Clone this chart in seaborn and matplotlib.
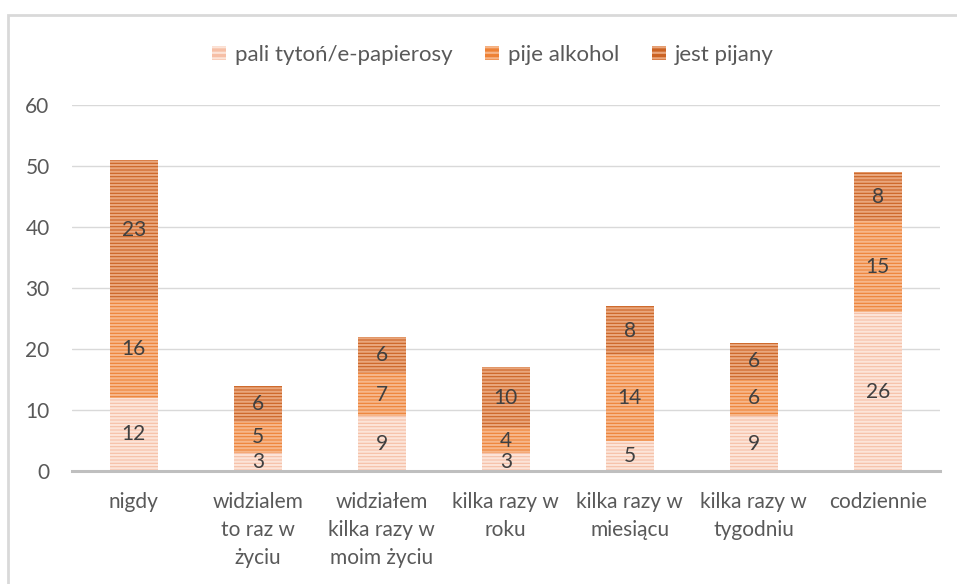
import matplotlib
matplotlib.use("Agg")
import matplotlib.pyplot as plt
import matplotlib.patches as mpatches
import numpy as np
import seaborn as sns

categories = ["nigdy", "widzialem\nto raz w\nżyciu", "widziałem\nkilka razy w\nmoim życiu",
              "kilka razy w\nroku", "kilka razy w\nmiesiącu", "kilka razy w\ntygodniu", "codziennie"]
series = ["pali tytoń/e-papierosy", "pije alkohol", "jest pijany"]
pali = [12, 3, 9, 3, 5, 9, 26]
pije = [16, 5, 7, 4, 14, 6, 15]
pijany = [23, 6, 6, 10, 8, 6, 8]

face_colors = ["#F6BFA6", "#EE8236", "#CB6324"]
stripe_colors = ["#FCE4D8", "#F6B68A", "#E9A67C"]

sns.set_style("white")
plt.rcParams["font.family"] = ["Lato", "DejaVu Sans"]
plt.rcParams["hatch.linewidth"] = 1.6

fig = plt.figure(figsize=(9.57, 5.84), dpi=100)
ax = fig.add_axes([0.075, 0.1935, 0.907, 0.6265])

bottom = np.zeros(len(categories))
handles = []
for name, vals, fc, sc in zip(series, [pali, pije, pijany], face_colors, stripe_colors):
    n_before = len(ax.patches)
    sns.barplot(x=categories, y=vals, bottom=bottom, color=fc, width=0.39,
                saturation=1, ax=ax, linewidth=0, edgecolor=sc, hatch="-----")
    for p in ax.patches[n_before:]:
        p.set_facecolor(fc)
        p.set_edgecolor(sc)
        p.set_linewidth(0)
    for i, v in enumerate(vals):
        ax.text(i, bottom[i] + v / 2, str(v), ha="center", va="center",
                fontsize=15, color="#404040")
    bottom = bottom + np.array(vals)
    handles.append(mpatches.Patch(facecolor=fc, edgecolor=sc, hatch="---",
                                  linewidth=0, label=name))

ax.set_ylim(0, 60)
ax.set_xlim(-0.5, len(categories) - 0.5)
ax.set_yticks(range(0, 61, 10))
ax.yaxis.grid(True, color="#D9D9D9", linewidth=1)
ax.set_axisbelow(True)
for s in ["left", "right", "top"]:
    ax.spines[s].set_visible(False)
ax.spines["bottom"].set_color("#BFBFBF")
ax.spines["bottom"].set_linewidth(2.2)
ax.tick_params(axis="both", length=0, labelsize=15, labelcolor="#595959")
ax.tick_params(axis="x", pad=15)
ax.tick_params(axis="y", pad=16)
for lbl in ax.get_xticklabels():
    lbl.set_linespacing(1.5)
ax.set_xlabel("")
ax.set_ylabel("")

fig.legend(handles=handles, loc="upper center", bbox_to_anchor=(0.515, 0.958), ncol=3,
           frameon=False, fontsize=16, labelcolor="#595959", handlelength=0.6,
           handleheight=0.6, handletextpad=0.4, columnspacing=1.5)

# chart border (left and top edges visible)
fig.patches.append(mpatches.Rectangle((8 / 957, -0.1), 1.2, 1.1 - 15 / 584,
                                      transform=fig.transFigure, fill=False,
                                      edgecolor="#D9D9D9", linewidth=2))

fig.savefig("out.png", dpi=100)
